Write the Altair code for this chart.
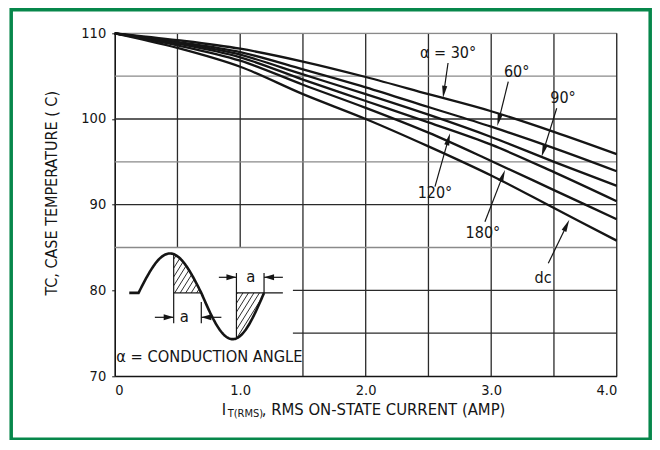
import altair as alt
import pandas as pd
import numpy as np

# ---------------- data ----------------
current = [0.0, 0.5, 1.0, 1.5, 2.0, 2.5, 3.0, 3.5, 4.0]
t_30 = [110, 109.2, 108.2, 106.7, 104.9, 102.9, 100.9, 98.5, 95.9]
t_60 = [110, 109.0, 107.8, 105.8, 103.7, 101.4, 99.1, 96.6, 93.9]
t_90 = [110, 108.9, 107.5, 105.2, 102.9, 100.5, 97.9, 95.0, 92.2]
t_120 = [110, 108.8, 107.2, 104.6, 102.1, 99.6, 97.0, 93.8, 90.4]
t_180 = [110, 108.6, 106.8, 104.0, 101.3, 98.4, 95.1, 91.7, 88.3]
t_dc = [110, 108.3, 106.1, 102.9, 100.0, 96.8, 93.4, 89.6, 85.8]
series_names = ["30", "60", "90", "120", "180", "dc"]
series_vals = [t_30, t_60, t_90, t_120, t_180, t_dc]

x_ticks = [0, 1, 2, 3, 4]
y_ticks = [70, 80, 90, 100, 110]

# annotation labels: text, label x, label y, arrow start x, y, arrow tip x, y
ann_text = ["\u03b1 = 30\u00b0", "60\u00b0", "90\u00b0", "120\u00b0", "180\u00b0", "dc"]
ann_lx = [2.656, 3.203, 3.572, 2.552, 2.934, 3.413]
ann_ly = [107.7, 105.48, 102.45, 91.36, 86.69, 81.44]
ann_sx = [2.656, 3.136, 3.522, 2.552, 2.950, 3.455]
ann_sy = [106.53, 104.35, 101.25, 92.10, 88.01, 83.15]
ann_tx = [2.616, 3.049, 3.402, 2.672, 3.110, 3.622]
ann_ty = [102.45, 99.18, 95.60, 98.33, 94.04, 88.21]

# grid
v_grid_full = [1.5, 2.0, 2.5, 3.0, 3.5]
v_grid_upper = [0.5, 1.0]
h_grid_gray = [105, 95, 85]
h_grid_dark = [100, 90]
h_grid_short = [80, 75]

# inset (conduction angle sketch)
base = 79.7
sine_start, sine_period = 0.19, 1.0
amp_pos, amp_neg = 4.6, 5.4
flat_start, flat_end = 0.116, 1.34
hatch1 = (0.47, 0.69)
hatch2 = (0.97, 1.19)
dim_low_y, dim_up_y = 76.85, 81.52

W, H = 502, 342.7
SX, SY = W / 4.0, H / 40.0
FONT = "DejaVu Sans Condensed, Liberation Sans Narrow, Arial Narrow, sans-serif"
INK = "#151515"
GRAY = "#8a8a8a"
GREEN = "#07874b"

XS = alt.Scale(domain=[0, 4], nice=False, zero=False)
YS = alt.Scale(domain=[70, 110], nice=False, zero=False)
XAX = alt.Axis(values=x_ticks, labelExpr="datum.value == 0 ? '0' : format(datum.value, '.1f')",
               grid=False, ticks=False, domainColor=INK, domainWidth=1.6, labelFont=FONT,
               labelFontSize=14.5, labelColor=INK, labelPadding=7, title=None)
YAX = alt.Axis(values=y_ticks, grid=False, ticks=True, tickSize=3, tickColor=INK, domainColor=INK,
               domainWidth=1.6, labelFont=FONT, labelFontSize=14.5, labelColor=INK, labelPadding=6,
               title=None)


def X(f):
    return alt.X(f, type="quantitative", scale=XS, axis=XAX)


def Y(f):
    return alt.Y(f, type="quantitative", scale=YS, axis=YAX)


layers = []

# ---- grid ----
grid_rows = []
for v in v_grid_full:
    grid_rows.append(dict(x=v, x2=v, y=70, y2=110, c="dark"))
for v in v_grid_upper:
    grid_rows.append(dict(x=v, x2=v, y=85, y2=110, c="dark"))
for h in h_grid_gray:
    grid_rows.append(dict(x=0, x2=4, y=h, y2=h, c="gray"))
for h in h_grid_dark:
    grid_rows.append(dict(x=0, x2=4, y=h, y2=h, c="dark"))
for h in h_grid_short:
    grid_rows.append(dict(x=1.42, x2=4, y=h, y2=h, c="dark"))
grid_rows.append(dict(x=0, x2=4, y=110, y2=110, c="gray"))
grid_rows.append(dict(x=4, x2=4, y=70, y2=110, c="dark"))
grid_df = pd.DataFrame(grid_rows)
layers.append(alt.Chart(grid_df).mark_rule(strokeWidth=1.3).encode(
    x=X("x"), x2="x2", y=Y("y"), y2="y2",
    color=alt.Color("c:N", scale=alt.Scale(domain=["dark", "gray"], range=["#2a2a2a", GRAY]), legend=None)))

# ---- curves ----
rows = []
for name, vals in zip(series_names, series_vals):
    for xi, yi in zip(current, vals):
        rows.append(dict(series=name, x=xi, y=yi))
curve_df = pd.DataFrame(rows)
layers.append(alt.Chart(curve_df).mark_line(interpolate="monotone", strokeWidth=2.3, color=INK).encode(
    x=X("x"), y=Y("y"), detail="series:N"))

# ---- annotation arrows ----
HEAD = "M0,-1L-0.42,1L0.42,1Z"
arr_rows = []
for sx, sy, tx, ty in zip(ann_sx, ann_sy, ann_tx, ann_ty):
    dx = (tx - sx) * SX
    dy = -(ty - sy) * SY
    ln = np.hypot(dx, dy)
    ux, uy = dx / ln, dy / ln
    ang = np.degrees(np.arctan2(ux, -uy)) % 360
    hx = tx - ux * 6 / SX
    hy = ty + uy * 6 / SY
    arr_rows.append(dict(x=sx, y=sy, x2=hx, y2=hy, hx=hx, hy=hy, ang=float(ang)))
arr_df = pd.DataFrame(arr_rows)
layers.append(alt.Chart(arr_df).mark_rule(strokeWidth=1.2, color=INK).encode(
    x=X("x"), x2="x2", y=Y("y"), y2="y2"))
layers.append(alt.Chart(arr_df).mark_point(shape=HEAD, filled=True, size=150, color=INK, opacity=1).encode(
    x=X("hx"), y=Y("hy"), angle=alt.Angle("ang:Q", scale=None)))

ann_df = pd.DataFrame(dict(t=ann_text, x=ann_lx, y=ann_ly))
layers.append(alt.Chart(ann_df).mark_text(font=FONT, fontSize=16, color=INK, baseline="middle").encode(
    x=X("x"), y=Y("y"), text="t:N"))


# ---- inset ----
def sine_y(x):
    ph = (np.asarray(x) - sine_start) / sine_period * 2 * np.pi
    s = np.sin(ph)
    return base + np.where(s >= 0, amp_pos, amp_neg) * s


sx_pts = np.linspace(sine_start, sine_start + sine_period, 160)
wave_x = [flat_start] + list(sx_pts)
wave_y = [base] + list(sine_y(sx_pts))
wave_df = pd.DataFrame(dict(x=wave_x, y=wave_y, o=range(len(wave_x))))
layers.append(alt.Chart(wave_df).mark_line(strokeWidth=2.6, color=INK).encode(
    x=X("x"), y=Y("y"), order="o:Q"))


def hatch(x_lo, x_hi, upper):
    segs = []
    k = 1 / np.tan(np.radians(58))
    step = 5.5
    hmax = 60.0
    cs = np.arange(x_lo * SX - k * hmax, x_hi * SX + k * hmax, step)
    for c in cs:
        hs = np.linspace(0, hmax, 800) if upper else np.linspace(-hmax, 0, 800)
        xd = (c + k * hs) / SX
        ch = (sine_y(xd) - base) * SY
        inside = (xd >= x_lo) & (xd <= x_hi)
        inside &= (hs <= ch) if upper else (hs >= ch)
        idx = np.where(inside)[0]
        if len(idx) >= 2:
            segs.append(dict(x=xd[idx[0]], y=base + hs[idx[0]] / SY,
                             x2=xd[idx[-1]], y2=base + hs[idx[-1]] / SY))
    return segs


hatch_df = pd.DataFrame(hatch(*hatch1, True) + hatch(*hatch2, False))
layers.append(alt.Chart(hatch_df).mark_rule(strokeWidth=0.9, color=INK).encode(
    x=X("x"), x2="x2", y=Y("y"), y2="y2"))

thin = [
    dict(x=hatch1[0], x2=hatch1[0], y=float(sine_y(hatch1[0])), y2=dim_low_y - 0.7),
    dict(x=hatch1[0], x2=hatch1[1], y=base, y2=base),
    dict(x=hatch1[1], x2=hatch1[1], y=base - 1.05, y2=dim_low_y - 0.7),
    dict(x=hatch2[0], x2=hatch2[0], y=float(sine_y(hatch2[0])), y2=dim_up_y + 0.5),
    dict(x=hatch2[0], x2=flat_end, y=base, y2=base),
    dict(x=hatch2[1], x2=hatch2[1], y=base, y2=dim_up_y + 0.5),
    dict(x=0.32, x2=hatch1[0], y=dim_low_y, y2=dim_low_y),
    dict(x=hatch1[1], x2=0.85, y=dim_low_y, y2=dim_low_y),
    dict(x=0.83, x2=hatch2[0], y=dim_up_y, y2=dim_up_y),
    dict(x=hatch2[1], x2=1.34, y=dim_up_y, y2=dim_up_y),
]
layers.append(alt.Chart(pd.DataFrame(thin)).mark_rule(strokeWidth=1.2, color=INK).encode(
    x=X("x"), x2="x2", y=Y("y"), y2="y2"))

DHEAD = "M0,-1L-0.6,1L0.6,1Z"
dheads = pd.DataFrame([
    dict(x=hatch1[0] - 5 / SX, y=dim_low_y, a=90.0),
    dict(x=hatch1[1] + 5 / SX, y=dim_low_y, a=270.0),
    dict(x=hatch2[0] - 5 / SX, y=dim_up_y, a=90.0),
    dict(x=hatch2[1] + 5 / SX, y=dim_up_y, a=270.0),
])
layers.append(alt.Chart(dheads).mark_point(shape=DHEAD, filled=True, size=100, color=INK, opacity=1).encode(
    x=X("x"), y=Y("y"), angle=alt.Angle("a:Q", scale=None)))

a_df = pd.DataFrame(dict(t=["a", "a", "\u03b1 = CONDUCTION ANGLE"],
                         x=[0.555, 1.085, 0.012], y=[dim_low_y, dim_up_y, 72.25],
                         al=["center", "center", "left"]))
layers.append(alt.Chart(a_df[a_df.al == "center"]).mark_text(font=FONT, fontSize=16.5, color=INK,
                                                              baseline="middle").encode(
    x=X("x"), y=Y("y"), text="t:N"))
layers.append(alt.Chart(a_df[a_df.al == "left"]).mark_text(font=FONT, fontSize=16.3, color=INK,
                                                            baseline="middle", align="left").encode(
    x=X("x"), y=Y("y"), text="t:N"))

# ---- titles (pixel placed) ----
one = pd.DataFrame({"k": [0]})
layers.append(alt.Chart(one).mark_text(font=FONT, fontSize=16, color=INK, angle=270, baseline="middle").encode(
    x=alt.value(-63), y=alt.value(160), text=alt.value("TC, CASE TEMPERATURE (  C)")))
layers.append(alt.Chart(one).mark_text(font=FONT, fontSize=16.5, color=INK, baseline="middle", align="left").encode(
    x=alt.value(107), y=alt.value(377), text=alt.value("I")))
layers.append(alt.Chart(one).mark_text(font=FONT, fontSize=11, color=INK, baseline="middle", align="left").encode(
    x=alt.value(113), y=alt.value(381), text=alt.value("T(RMS)")))
layers.append(alt.Chart(one).mark_text(font=FONT, fontSize=16.5, color=INK, baseline="middle", align="left").encode(
    x=alt.value(147), y=alt.value(377), text=alt.value(", RMS ON-STATE CURRENT (AMP)")))

# ---- green frame ----
layers.append(alt.Chart(one).mark_rect(fillOpacity=0, stroke=GREEN, strokeWidth=3.5).encode(
    x=alt.value(-103.5), x2=alt.value(535.5), y=alt.value(-23.5), y2=alt.value(406)))

chart = alt.layer(*layers).properties(
    width=W, height=H,
    padding={"left": 106.7, "top": 25.3, "right": 35.3, "bottom": 64},
    autosize=alt.AutoSizeParams(type="none"),
    background="white",
).configure_view(stroke=None).configure(font=FONT)

chart.save("out.html", embed_options={"renderer": "svg", "actions": False})
